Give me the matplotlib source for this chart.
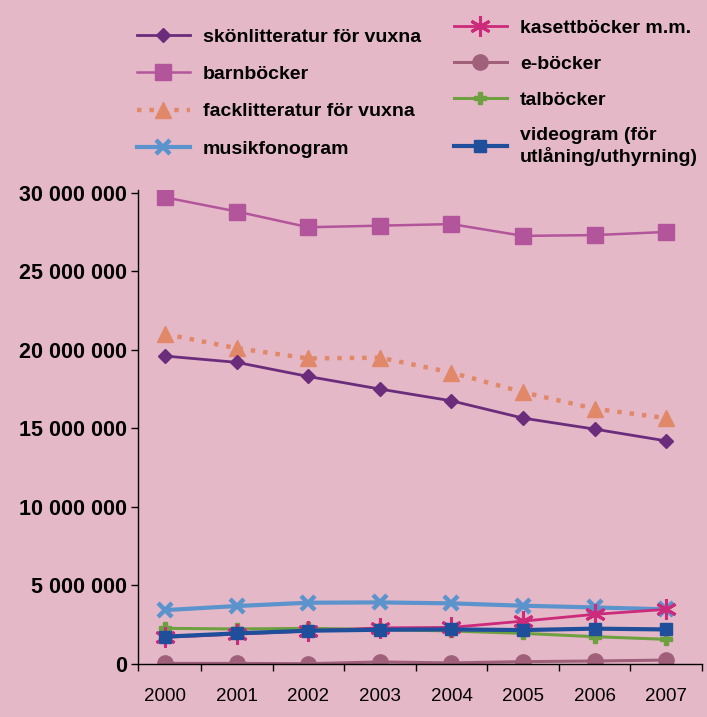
import numpy as np
import matplotlib
matplotlib.use("Agg")
import matplotlib.pyplot as plt
from matplotlib.lines import Line2D

plt.rcParams['font.family'] = ['Liberation Sans', 'DejaVu Sans']

# data (miljoner lån)
years = ['2000', '2001', '2002', '2003', '2004', '2005', '2006', '2007']
skon = [19.6, 19.2, 18.3, 17.5, 16.75, 15.65, 14.95, 14.2]
barn = [29.7, 28.8, 27.8, 27.9, 28.0, 27.25, 27.3, 27.5]
fack = [21.0, 20.1, 19.45, 19.5, 18.55, 17.3, 16.25, 15.65]
musik = [3.43, 3.69, 3.9, 3.92, 3.86, 3.71, 3.6, 3.48]
kasett = [1.7, 1.9, 2.1, 2.3, 2.33, 2.73, 3.16, 3.48]
ebok = [0.04, 0.04, 0.02, 0.13, 0.07, 0.15, 0.19, 0.25]
tal = [2.27, 2.23, 2.27, 2.2, 2.1, 1.95, 1.74, 1.57]
video = [1.74, 1.95, 2.12, 2.18, 2.2, 2.16, 2.25, 2.2]

ytick_vals = [0, 5, 10, 15, 20, 25, 30]
ytick_labels = ['0', '5 000 000', '10 000 000', '15 000 000', '20 000 000', '25 000 000', '30 000 000']

bg = '#E5B8C8'
fig = plt.figure(figsize=(7.07, 7.17), dpi=100, facecolor=bg)
ax = fig.add_axes([138/707, 53/717, 564/707, 474/717])
ax.set_facecolor(bg)

x = np.arange(len(years))
M = 1e6

ax.plot(x, np.array(ebok)*M, color='#A0607A', marker='o', ms=11, lw=2.2, zorder=2)
ax.plot(x, np.array(tal)*M, color='#6FA040', marker='P', ms=9, lw=2.2, zorder=3)
ax.plot(x, np.array(musik)*M, color='#5B93CC', marker='x', ms=10, mew=3.2, lw=3, zorder=3)
ax.plot(x, np.array(kasett)*M, color='#CC2A7A', marker=(6, 2, 0), ms=15, mew=2.2, lw=2, zorder=4)
ax.plot(x, np.array(video)*M, color='#1F4E9A', marker='s', ms=8, lw=3, zorder=5)
ax.plot(x, np.array(fack)*M, color='#E08868', marker='^', ms=11, lw=3.2,
        dashes=(1, 1.8), dash_capstyle='butt', zorder=3)
ax.plot(x, np.array(skon)*M, color='#6B2D7B', marker='D', ms=7, lw=2, zorder=4)
ax.plot(x, np.array(barn)*M, color='#B3559A', marker='s', ms=11, lw=1.8, zorder=4)

ax.set_xlim(-0.38, 7.5)
ax.set_ylim(0, 30.17*M)
ax.spines['top'].set_visible(False)
ax.spines['right'].set_visible(False)
ax.spines['left'].set_linewidth(1)
ax.spines['bottom'].set_linewidth(1)

ax.set_yticks(np.array(ytick_vals)*M)
ax.set_yticklabels(ytick_labels, fontsize=15.5, fontweight='bold')
ax.tick_params(axis='y', length=5, width=1, pad=3)

ax.set_xticks(x)
ax.set_xticklabels(years, fontsize=13.5)
ax.tick_params(axis='x', which='major', length=0, pad=17)
ax.set_xticks(list(np.arange(0.5, 7.6, 1.0)) + [-0.38], minor=True)
ax.tick_params(axis='x', which='minor', length=5, width=1)

# legends
def h(color, marker, ms, lw, **kw):
    return Line2D([0], [0], color=color, marker=marker, ms=ms, lw=lw, **kw)

left_h = [h('#6B2D7B', 'D', 7, 2),
          h('#B3559A', 's', 11, 1.8),
          h('#E08868', '^', 11, 3.2, dashes=(1, 1.8), dash_capstyle='butt'),
          h('#5B93CC', 'x', 10, 3, mew=3.2)]
left_l = ['skönlitteratur för vuxna', 'barnböcker', 'facklitteratur för vuxna', 'musikfonogram']
right_h = [h('#CC2A7A', (6, 2, 0), 15, 2, mew=2.2),
           h('#A0607A', 'o', 11, 2.2),
           h('#6FA040', 'P', 9, 2.2),
           h('#1F4E9A', 's', 8, 3)]
right_l = ['kasettböcker m.m.', 'e-böcker', 'talböcker', 'videogram (för\nutlåning/uthyrning)']

leg_kw = dict(frameon=False, borderpad=0, borderaxespad=0, handlelength=2.7,
              handletextpad=0.7, prop={'size': 14, 'weight': 'bold'})
fig.legend(left_h, left_l, loc='upper left', bbox_to_anchor=(137/707, 1 - 28/717),
           labelspacing=1.02, **leg_kw)
fig.legend(right_h, right_l, loc='upper left', bbox_to_anchor=(454/707, 1 - 19/717),
           labelspacing=0.95, **leg_kw)

fig.savefig('out.png', dpi=100, facecolor=bg)
